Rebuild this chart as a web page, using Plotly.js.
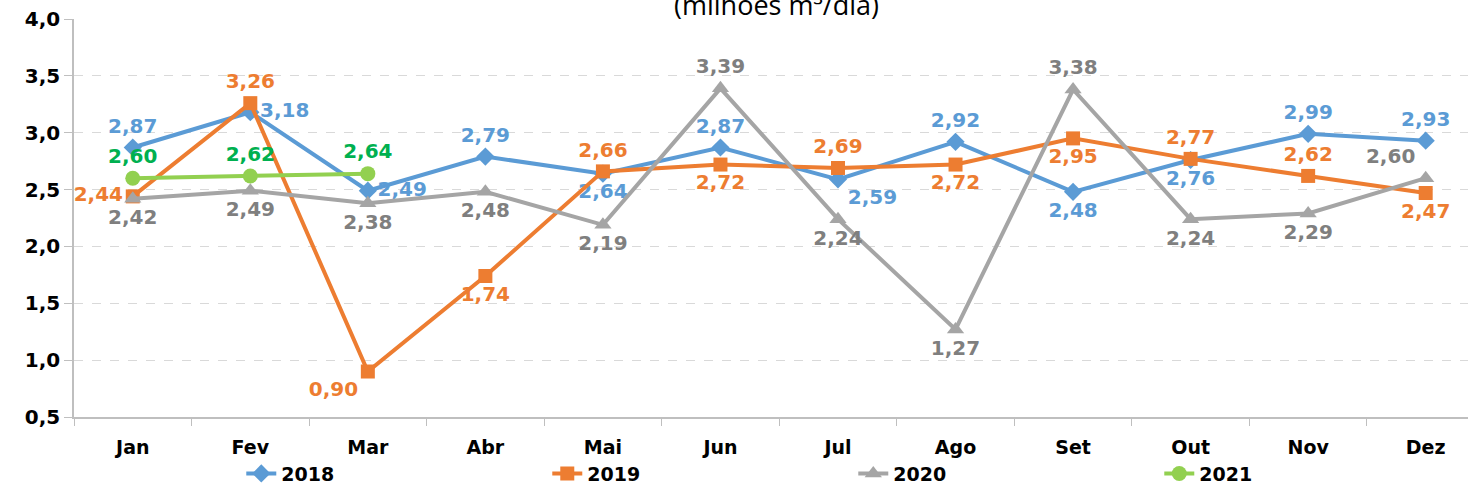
<!DOCTYPE html>
<html>
<head>
<meta charset="utf-8">
<script src="https://cdn.plot.ly/plotly-3.0.1.min.js"></script>
<style>
  html, body { margin: 0; padding: 0; background: #fff; }
  #chart { width: 1468px; height: 494px; }
</style>
</head>
<body>
<div id="chart"></div>
<script>
var months = ["Jan", "Fev", "Mar", "Abr", "Mai", "Jun", "Jul", "Ago", "Set", "Out", "Nov", "Dez"];

var y2018 = [2.87, 3.18, 2.49, 2.79, 2.64, 2.87, 2.59, 2.92, 2.48, 2.76, 2.99, 2.93];
var y2019 = [2.44, 3.26, 0.90, 1.74, 2.66, 2.72, 2.69, 2.72, 2.95, 2.77, 2.62, 2.47];
var y2020 = [2.42, 2.49, 2.38, 2.48, 2.19, 3.39, 2.24, 1.27, 3.38, 2.24, 2.29, 2.60];
var y2021 = [2.60, 2.62, 2.64];

// where each data label sits
var pos2018 = ["top center", "middle right", "middle right", "top center", "bottom center", "top center",
               "bottom right", "top center", "bottom center", "bottom center", "top center", "top center"];
var pos2019 = ["middle left", "top center", "bottom left", "bottom center", "top center", "bottom center",
               "top center", "bottom center", "bottom center", "top center", "top center", "bottom center"];
var pos2020 = ["bottom center", "bottom center", "bottom center", "bottom center", "bottom center", "top center",
               "bottom center", "bottom center", "top center", "bottom center", "bottom center", "top left"];

function lbl(arr) {
  return arr.map(function (v) { return v.toFixed(2).replace(".", ","); });
}

var labelFont = "DejaVu Sans, Verdana, sans-serif";

function series(name, y, color, txtColor, symbol, size, pos) {
  return {
    type: "scatter",
    mode: "lines+markers+text",
    name: name,
    x: months.slice(0, y.length),
    y: y,
    text: lbl(y),
    textposition: pos,
    textfont: {family: labelFont, size: 20, color: txtColor, weight: "bold"},
    line: {color: color, width: 4},
    marker: {symbol: symbol, size: size, color: color},
    cliponaxis: false,
    hoverinfo: "x+y"
  };
}

var data = [
  series("2018", y2018, "#5B9BD5", "#5B9BD5", "diamond", 14, pos2018),
  series("2019", y2019, "#ED7D31", "#ED7D31", "square", 14, pos2019),
  series("2020", y2020, "#A5A5A5", "#7F7F7F", "triangle-up", 15, pos2020),
  series("2021", y2021, "#92D050", "#00B050", "circle", 15, "top center")
];

var layout = {
  width: 1468,
  height: 494,
  margin: {l: 74, r: 0, t: 19, b: 77},
  paper_bgcolor: "#fff",
  plot_bgcolor: "#fff",
  separators: ",.",
  showlegend: true,
  legend: {
    orientation: "h",
    x: 0.12, xanchor: "left",
    y: -0.19, yanchor: "bottom",
    entrywidth: 261,
    borderwidth: 0,
    bgcolor: "rgba(0,0,0,0)",
    font: {family: labelFont, size: 19, color: "#000", weight: "bold"},
    itemclick: false
  },
  xaxis: {
    type: "category",
    range: [-0.5, 11.36],
    showline: true, linecolor: "#BFBFBF", linewidth: 1.5,
    ticks: "outside", ticklen: 7, tickcolor: "#BFBFBF",
    tickson: "boundaries",
    ticklabelstandoff: 12,
    showgrid: false,
    tickfont: {family: labelFont, size: 19, color: "#000", weight: "bold"},
    fixedrange: true
  },
  yaxis: {
    range: [0.5, 4.0],
    dtick: 0.5,
    tickformat: ".1f",
    showline: true, linecolor: "#BFBFBF", linewidth: 1.5,
    ticks: "outside", ticklen: 8, tickcolor: "#BFBFBF",
    showgrid: true, gridcolor: "#D9D9D9", griddash: "dash", gridwidth: 1,
    zeroline: false,
    tickfont: {family: labelFont, size: 20, color: "#000", weight: "bold"},
    fixedrange: true
  },
  annotations: [{
    text: "(milhões m³/dia)",
    xref: "paper", yref: "paper",
    x: 0.504, y: 1, yshift: -6,
    xanchor: "center", yanchor: "bottom",
    showarrow: false,
    font: {family: "Open Sans, sans-serif", size: 27, color: "#000"}
  }]
};

Plotly.newPlot("chart", data, layout, {displayModeBar: false});
</script>
</body>
</html>
